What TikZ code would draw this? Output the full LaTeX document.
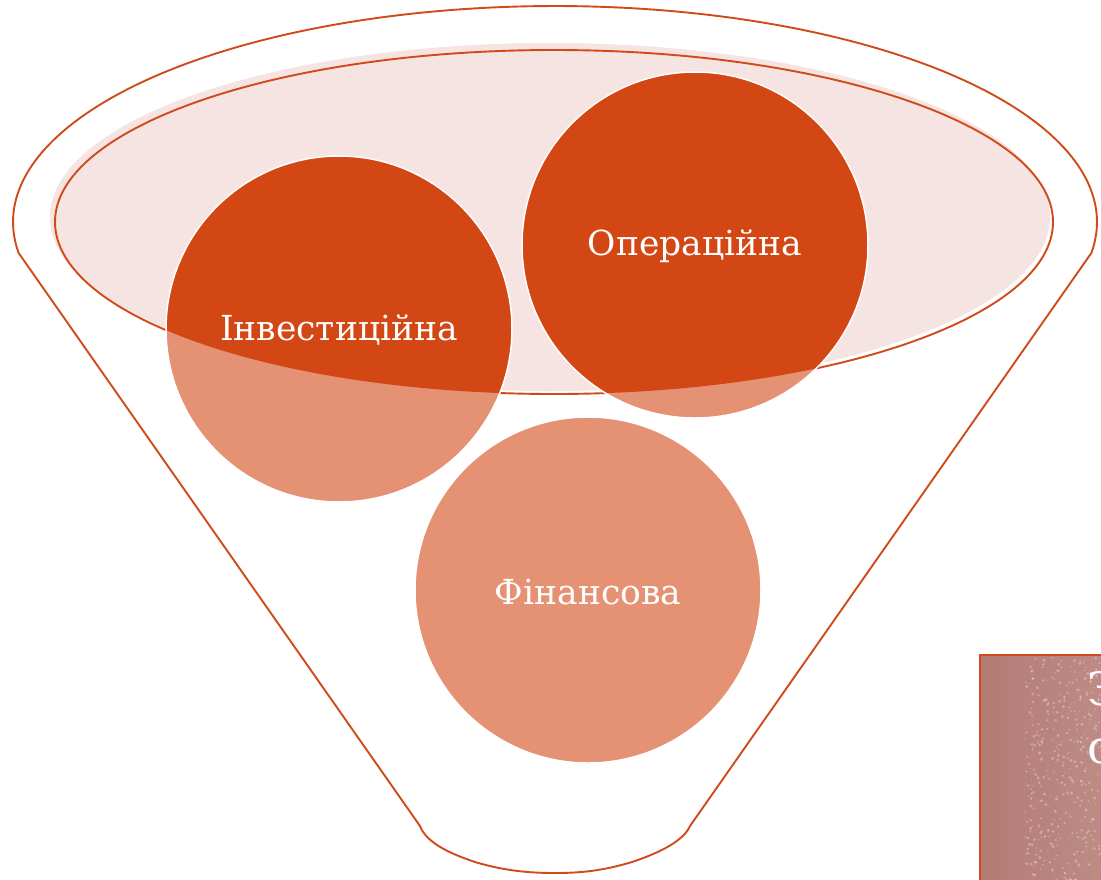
\documentclass[tikz,border=0pt]{standalone}
\usepackage{fontspec}
\setmainfont{DejaVu Serif}
\definecolor{rim}{HTML}{D04A1A}
\definecolor{dark}{HTML}{D34714}
\definecolor{light}{HTML}{E49174}
\definecolor{pinkfill}{HTML}{F6E4E2}
\definecolor{boxA}{HTML}{B57B75}
\definecolor{boxB}{HTML}{BE8C86}
\tikzset{
  rimline/.style={draw=rim, line width=1.9pt},
  ball/.style={circle, minimum size=346pt, inner sep=0pt, fill=light},
  balltext/.style={text=white, font=\fontsize{34.5}{34.5}\selectfont},
}
\begin{document}
\begin{tikzpicture}[x=1pt,y=-1pt]
\useasboundingbox (0,0) rectangle (1101,879);
\clip (0,0) rectangle (1101,879);
\fill[white] (0,0) rectangle (1101,879);
% outer funnel
\draw[rimline, line join=round]
  plot[domain=171.75:368.25, samples=160] ({555+542*cos(\x)},{222+216*sin(\x)})
  -- (690,826) .. controls (684,840) and (662,852) .. (632,862)
  .. controls (602,871) and (580,873) .. (555,873)
  .. controls (530,873) and (505,871) .. (475,862)
  .. controls (448,853) and (426,842) .. (420,826) -- cycle;
% inner ellipse
\fill[pinkfill] (550,217) ellipse [x radius=500pt, y radius=174pt];
\draw[rimline] (554,222) ellipse [x radius=499pt, y radius=172pt];
% circles
\node[ball] (inv) at (339,329) {};
\node[ball] (oper) at (695,245) {};
\node[ball] (fin) at (588,590) {};
\begin{scope}
  \clip (554,222) ellipse [x radius=499pt, y radius=172pt];
  \fill[dark] (inv) circle [radius=173pt];
  \fill[dark] (oper) circle [radius=173pt];
\end{scope}
\draw[white, line width=1.5pt] (inv) circle [radius=173pt];
\draw[white, line width=1.5pt] (oper) circle [radius=173pt];
\draw[white, line width=1.5pt] (fin) circle [radius=173pt];
\node[balltext] (tinv) at (339,330) {Інвестиційна};
\node[balltext] (toper) at (695,246) {Операційна};
\node[balltext] (tfin) at (588,592) {Фінансова};
% cut-off box at bottom right
\shade[left color=boxA, right color=boxB] (980,655) rectangle (1110,890);
\begin{scope}
  \clip (1025,657) rectangle (1110,890);
  \pgfmathsetseed{7}
  \foreach \i in {1,...,420} {
    \pgfmathsetmacro{\px}{1020+85*rnd}
    \pgfmathsetmacro{\py}{657+225*rnd}
    \pgfmathsetmacro{\pr}{0.5+1.2*rnd}
    \fill[white, opacity=0.3] (\px,\py) circle [radius=\pr pt];
  }
\end{scope}
\draw[draw=rim, line width=1.8pt] (980,655) rectangle (1110,890);
\node[anchor=west, text=white, font=\fontsize{46}{46}\selectfont, inner sep=0pt] (z1) at (1087,689) {З};
\node[anchor=west, text=white, font=\fontsize{46}{46}\selectfont, inner sep=0pt] (z2) at (1087,752) {с};
\end{tikzpicture}
\end{document}
